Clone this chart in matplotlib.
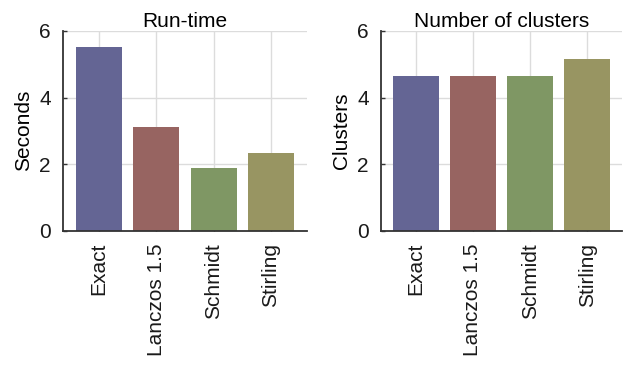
import matplotlib
matplotlib.use("Agg")
import matplotlib.pyplot as plt
import numpy as np

methods = ["Exact", "Lanczos 1.5", "Schmidt", "Stirling"]
runtime_seconds = [5.51, 3.12, 1.88, 2.34]
num_clusters = [4.65, 4.65, 4.65, 5.16]
colors = ["#646594", "#976461", "#7f9764", "#989562"]
yticks = [0, 2, 4, 6]

plt.rcParams['font.family'] = ['Liberation Sans', 'DejaVu Sans']
plt.rcParams['font.size'] = 15

fig = plt.figure(figsize=(6.33, 3.67), dpi=100)
ax1 = fig.add_axes([63.3/633, 136.5/367, 243.2/633, 199.5/367])
ax2 = fig.add_axes([381.3/633, 136.5/367, 240.4/633, 199.5/367])

for ax, vals, title, ylabel, xl in [
    (ax1, runtime_seconds, "Run-time", "Seconds", (-0.62, 3.62)),
    (ax2, num_clusters, "Number of clusters", "Clusters", (-0.6, 3.6)),
]:
    x = np.arange(len(methods))
    ax.bar(x, vals, width=0.8, color=colors, zorder=2)
    ax.set_xlim(*xl)
    ax.set_ylim(0, 6)
    ax.set_yticks(yticks)
    ax.set_xticks(x)
    ax.set_xticklabels(methods, rotation=90)
    ax.set_title(title, fontsize=15, pad=2)
    ax.set_ylabel(ylabel, fontsize=15, labelpad=4)
    ax.grid(True, color="#dcdcdc", linewidth=1.0, zorder=0)
    for s in ["top", "right"]:
        ax.spines[s].set_visible(False)
    for s in ["left", "bottom"]:
        ax.spines[s].set_color("#333333")
        ax.spines[s].set_linewidth(1.3)
    ax.tick_params(direction="in", length=3, width=1, color="#333333",
                   labelsize=15, labelcolor="#1a1a1a", pad=9)
    ax.set_axisbelow(True)

fig.savefig("out.png", dpi=100)
